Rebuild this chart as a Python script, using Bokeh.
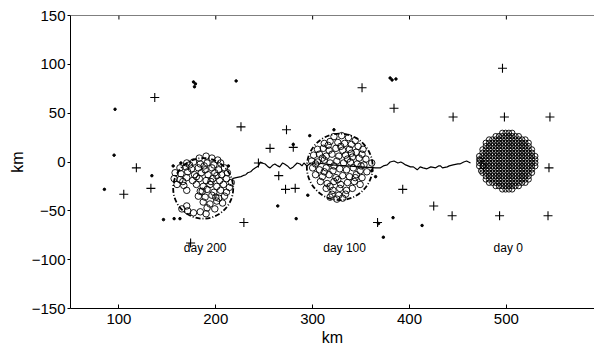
import numpy as np
from bokeh.plotting import figure
from bokeh.models import Range1d, FixedTicker, Span
from bokeh.embed import file_html
from bokeh.resources import INLINE
from bokeh.core.properties import value

# ---------------- data (km) ----------------
x_ticks = [100, 200, 300, 400, 500]
y_ticks = [-150, -100, -50, 0, 50, 100, 150]
x_lim = (50, 591)
y_lim = (-150, 150)

# day 0: regular deployment lattice inside a disc
day0_grid_x = [472, 475.4, 478.8, 482.2, 485.6, 489, 492.4, 495.8, 499.2, 502.6, 506,
               509.4, 512.8, 516.2, 519.6, 523, 526.4, 529.8]
day0_grid_y = [-28, -24.6, -21.2, -17.8, -14.4, -11, -7.6, -4.2, -0.8, 2.6, 6, 9.4,
               12.8, 16.2, 19.6, 23, 26.4, 29.8]
day0_center = (501, 1)
day0_radius = 29.5
day0_extra_x = [473, 476, 474]
day0_extra_y = [2, -4, -9]

# day 100 floats
d100_x = [322, 330, 337, 344,
          312, 318, 326, 333, 340, 347, 352,
          305, 311, 317, 324, 331, 338, 345, 351,
          301, 307, 314, 320, 327, 334, 341, 348, 355,
          299, 305, 312, 318, 325, 332, 339, 346, 353,
          300, 307, 314, 321, 328, 335, 342, 349, 356,
          303, 310, 317, 324, 331, 338, 345, 351,
          308, 315, 322, 329, 336, 343, 349,
          314, 321, 328, 335, 341,
          320, 327, 334,
          316, 329, 310, 336, 322, 344, 326, 312, 340, 318, 350, 303,
          318, 325, 331, 361]
d100_y = [26, 27, 25, 22,
          19, 21, 20, 19, 18, 16, 13,
          13, 14, 12, 14, 12, 13, 10, 8,
          7, 8, 6, 8, 6, 7, 5, 4, 3,
          1, 0, 2, -1, 1, -1, 0, -2, -3,
          -6, -8, -6, -9, -7, -8, -6, -9, -10,
          -13, -15, -13, -16, -14, -15, -13, -16,
          -20, -22, -20, -23, -21, -20, -23,
          -27, -29, -27, -29, -27,
          -33, -34, -33,
          17, 16, 4, 3, -4, -16, -18, -10, 9, -25, -4, -2,
          -36, -38, -37, -1]
d100_ring = (328, -5, 34)

# day 200 floats
d200_x = [183, 190, 196, 202,
          170, 177, 184, 191, 198, 205,
          163, 169, 175, 182, 189, 196, 203, 209,
          158, 164, 171, 178, 185, 192, 199, 206, 212,
          157, 163, 170, 176, 183, 190, 197, 204, 211, 216,
          160, 167, 180, 187, 194, 201, 208, 214,
          170, 184, 191, 198, 205, 211,
          182, 189, 196, 203, 209,
          187, 194, 201, 207,
          191, 199,
          165, 171, 177, 184, 190, 170,
          173, 188, 180, 195, 166, 201, 186, 200]
d200_y = [4, 6, 4, 2,
          -1, 0, -2, -1, -3, -1,
          -6, -5, -7, -6, -8, -6, -8, -6,
          -11, -12, -10, -13, -11, -13, -11, -13, -11,
          -17, -18, -16, -19, -17, -19, -17, -19, -17, -21,
          -23, -24, -23, -25, -23, -25, -23, -26,
          -29, -30, -28, -31, -29, -31,
          -35, -36, -34, -37, -35,
          -41, -43, -40, -42,
          -47, -48,
          -48, -50, -52, -51, -53, -45,
          -3, -4, -15, -20, -20, -14, -30, -36]
d200_ring = (187, -27, 31)

# "+" markers
plus_x = [137, 118, 105, 133, 226, 273, 256, 280, 265, 244, 272, 282, 229, 174,
          351, 384, 445, 496, 498, 545, 544, 393, 425, 444, 493, 543, 367]
plus_y = [66, -6, -33, -27, 36, 33, 14, 15, -14, -1, -28, -27, -62, -83,
          76, 55, 46, 96, 46, 46, -6, -28, -45, -55, -55, -55, -62]

# "." markers
dot_x = [96, 95, 177, 179, 178, 221, 134, 156, 164, 213, 280, 85, 146, 157, 163,
         264, 283, 295, 373, 383, 413, 368, 380, 382, 386, 322, 297, 365, 361]
dot_y = [54, 7, 82, 80, 77, 83, -14, -4, -1, -4, 18, -28, -59, -58, -58,
         -45, -58, -34, -77, -57, -65, -63, 86, 84, 85, 33, 27, -15, -9]

# centroid track
track_x = [463, 459, 456, 452, 450, 445, 441, 439, 434, 432, 430, 427, 422, 418, 414,
           411, 408, 404, 401, 396, 393, 391, 388, 384, 380, 377, 373, 370, 365,
           350, 335, 320, 305, 298, 294, 291, 289, 287, 284, 280, 277, 274, 271,
           269, 266, 264, 261, 259, 256, 254, 251, 248, 246, 244, 241, 238, 236,
           233, 231, 228, 226, 221, 217]
track_y = [-1, 1, 0, -2, -2, -3, -4, -5, -6, -4, -4, -6, -5, -7, -6,
           -5, -8, -5, -5, -3, -1, 0, -1, 1, 0, -3, -4, -6, -6,
           -5, -4, -3, -1, -1, -4, -1, -4, -2, -1, -5, -7, -4, -2,
           -1, -5, -4, -2, -3, -6, -5, -2, -1, 0, -4, -6, -8, -10,
           -11, -13, -14, -15, -16, -17]

labels = ["day 200", "day 100", "day 0"]
label_x = [189, 333, 502]
label_y = [-88, -88, -88]

# ---------------- build ----------------
gx, gy = np.meshgrid(day0_grid_x, day0_grid_y)
gx = gx.ravel(); gy = gy.ravel()
inside = (gx - day0_center[0]) ** 2 + (gy - day0_center[1]) ** 2 <= day0_radius ** 2
d0_x = list(gx[inside]) + day0_extra_x
d0_y = list(gy[inside]) + day0_extra_y

FONT = "Liberation Sans"

p = figure(width=594, height=348, x_range=Range1d(*x_lim), y_range=Range1d(*y_lim),
           output_backend="svg", toolbar_location=None,
           min_border_left=70, min_border_right=0, min_border_top=15, min_border_bottom=40,
           x_axis_label="km", y_axis_label="km")
p.grid.visible = False
p.outline_line_color = None
p.background_fill_color = "white"
p.border_fill_color = "white"

for ax, ticks in ((p.xaxis[0], x_ticks), (p.yaxis[0], y_ticks)):
    ax.ticker = FixedTicker(ticks=ticks)
    ax.minor_tick_line_color = None
    ax.axis_line_color = "black"
    ax.major_tick_line_color = "black"
    ax.major_label_text_font = FONT
    ax.major_label_text_font_size = "15px"
    ax.major_label_text_color = "black"
    ax.axis_label_text_font = FONT
    ax.axis_label_text_font_size = "16px"
    ax.axis_label_text_font_style = "normal"
    ax.axis_label_text_color = "black"

p.xaxis.major_tick_in = 4
p.xaxis.major_tick_out = 0
p.xaxis.major_label_standoff = 5
p.xaxis.axis_label_standoff = 2
p.yaxis.major_tick_in = 0
p.yaxis.major_tick_out = 3
p.yaxis.major_label_standoff = 2
p.yaxis.axis_label_standoff = 3

# top frame line with inward ticks
p.add_layout(Span(location=y_lim[1], dimension="width", line_color="black", line_width=1))
tick_len = 4 * (y_lim[1] - y_lim[0]) / 293.0
p.segment(x0=x_ticks, x1=x_ticks, y0=[y_lim[1]] * len(x_ticks),
          y1=[y_lim[1] - tick_len] * len(x_ticks), line_color="black", line_width=1)

# track
p.line(track_x, track_y, line_color="black", line_width=1.2)

# rings
p.ellipse(x=[d100_ring[0], d200_ring[0]], y=[d100_ring[1], d200_ring[1]],
          width=[2 * d100_ring[2], 2 * d200_ring[2]], height=[2 * d100_ring[2], 2 * d200_ring[2]],
          fill_color=None, line_color="black", line_width=1.8, line_dash="5 2 1 2")

# floats
p.scatter(d0_x, d0_y, marker="circle", size=5.5, fill_color=None, line_color="black", line_width=0.9)
p.scatter(d100_x, d100_y, marker="circle", size=6.5, fill_color=None, line_color="black", line_width=0.9)
p.scatter(d200_x, d200_y, marker="circle", size=6.5, fill_color=None, line_color="black", line_width=0.9)

p.scatter(plus_x, plus_y, marker="cross", size=9, line_color="black", line_width=1.1)
p.scatter(dot_x, dot_y, marker="circle", size=2.5, fill_color="black", line_color="black")

p.text(x=label_x, y=label_y, text=labels, text_font=value(FONT), text_font_size="12px",
       text_align="center", text_baseline="middle", text_color="black")

open("out.html", "w").write(file_html(p, INLINE))
